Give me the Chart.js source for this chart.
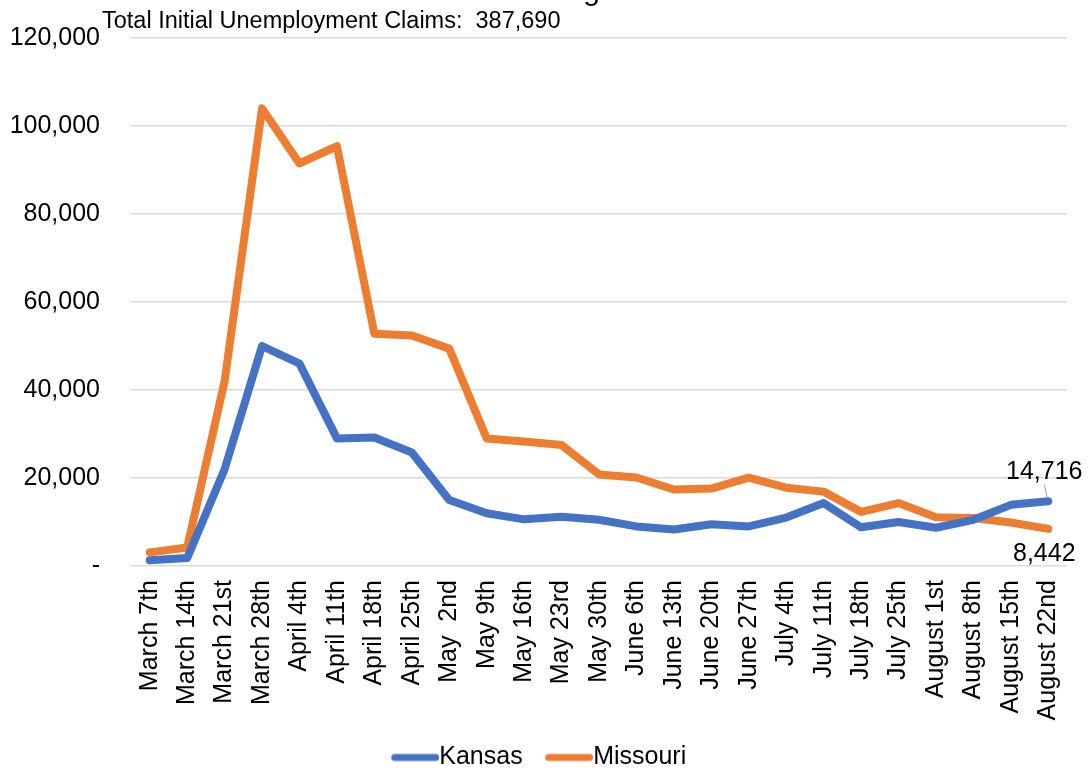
<!DOCTYPE html>
<html>
<head>
<meta charset="utf-8">
<script src="https://cdn.jsdelivr.net/npm/chart.js@4/dist/chart.umd.min.js"></script>
<style>
  html, body { margin: 0; padding: 0; background: #fff; }
  #wrap { width: 1088px; height: 770px; position: relative; }
</style>
</head>
<body>
<div id="wrap"><canvas id="c" width="1088" height="770"></canvas></div>
<script>
const categories = ["March 7th","March 14th","March 21st","March 28th","April 4th","April 11th","April 18th","April 25th","May  2nd","May 9th","May 16th","May 23rd","May 30th","June 6th","June 13th","June 20th","June 27th","July 4th","July 11th","July 18th","July 25th","August 1st","August 8th","August 15th","August 22nd"];
const kansas = [1300,1800,22000,50000,46000,29000,29200,25800,15000,12000,10600,11200,10500,9000,8300,9500,9000,11000,14300,8800,10000,8700,10500,13900,14716];
const missouri = [3100,4200,42000,104000,91500,95400,52800,52400,49400,29000,28300,27500,20800,20100,17400,17600,20100,17800,16900,12300,14300,11100,10900,9900,8442];
const yTicks = [0,20000,40000,60000,80000,100000,120000];
const totalLabel = "Total Initial Unemployment Claims:  387,690";
const titleText = "March - August 2020";

const FONT = '"Liberation Sans", Arial, sans-serif';
const fmt = v => v === 0 ? '-' : v.toLocaleString('en-US');

function legendIcon(color) {
  const c = document.createElement('canvas');
  c.width = 61; c.height = 12;
  const g = c.getContext('2d');
  g.strokeStyle = color; g.lineWidth = 7; g.lineCap = 'round';
  g.beginPath(); g.moveTo(16.5, 6); g.lineTo(57.5, 6); g.stroke();
  return c;
}

const extras = {
  id: 'extras',
  afterDatasetsDraw(chart) {
    const ctx = chart.ctx;
    const x = chart.scales.x, y = chart.scales.y;
    const last = categories.length - 1;
    ctx.save();
    ctx.fillStyle = '#000';
    ctx.font = '25px ' + FONT;
    ctx.textAlign = 'center';
    ctx.textBaseline = 'alphabetic';
    const kx = x.getPixelForValue(last), ky = y.getPixelForValue(kansas[last]);
    ctx.strokeStyle = '#a6a6a6';
    ctx.lineWidth = 1;
    ctx.beginPath(); ctx.moveTo(kx - 1, ky - 3); ctx.lineTo(kx - 4, ky - 17); ctx.stroke();
    ctx.fillText(fmt(kansas[last]), kx - 4, ky - 22);
    const mx = x.getPixelForValue(last), my = y.getPixelForValue(missouri[last]);
    ctx.fillText(fmt(missouri[last]), mx - 4, my + 32);
    ctx.textAlign = 'left';
    ctx.font = '23.5px ' + FONT;
    ctx.fillText(totalLabel, 102, 28);
    ctx.textAlign = 'right';
    ctx.font = '30px ' + FONT;
    ctx.fillText(titleText, 715, 0);
    ctx.restore();
  }
};

new Chart(document.getElementById('c'), {
  type: 'line',
  data: {
    labels: categories,
    datasets: [
      { label: 'Kansas', data: kansas, borderColor: '#4472C4', backgroundColor: '#4472C4', borderWidth: 8, pointRadius: 0, pointStyle: legendIcon('#4472C4'), tension: 0, borderCapStyle: 'round', borderJoinStyle: 'round' },
      { label: 'Missouri', data: missouri, borderColor: '#ED7D31', backgroundColor: '#ED7D31', borderWidth: 8, pointRadius: 0, pointStyle: legendIcon('#ED7D31'), tension: 0, borderCapStyle: 'round', borderJoinStyle: 'round' }
    ]
  },
  options: {
    responsive: false,
    animation: false,
    devicePixelRatio: 1,
    layout: { padding: { top: 38, right: 21, left: 10, bottom: -10 } },
    plugins: {
      legend: {
        position: 'bottom',
        labels: {
          usePointStyle: true,
          pointStyleWidth: 36,
          padding: 22,
          color: '#000',
          font: { size: 25, family: FONT }
        }
      },
      tooltip: { enabled: false },
      title: { display: false }
    },
    scales: {
      x: {
        offset: true,
        afterFit(s) { s.height = 157; s.paddingLeft = 0; s.paddingRight = 0; },
        grid: { display: false, drawTicks: false },
        border: { display: false },
        ticks: {
          minRotation: 90, maxRotation: 90, autoSkip: false, padding: 14,
          color: '#000',
          font: { size: 25, family: FONT }
        }
      },
      y: {
        min: 0, max: 120000,
        afterFit(s) { s.width = 121; s.paddingTop = 0; s.paddingBottom = 0; },
        afterBuildTicks(s) { s.ticks = yTicks.map(v => ({ value: v })); },
        grid: { color: '#d9d9d9', lineWidth: 1.5, drawTicks: false },
        border: { display: false },
        ticks: {
          padding: 31,
          color: '#000',
          font: { size: 25, family: FONT },
          callback: v => fmt(v)
        }
      }
    }
  },
  plugins: [extras]
});
</script>
</body>
</html>
